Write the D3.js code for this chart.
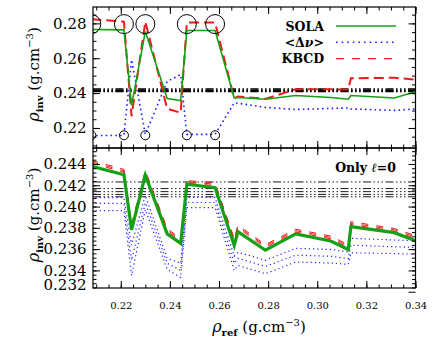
<!DOCTYPE html>
<html>
<head>
<meta charset="utf-8">
<script src="https://cdn.jsdelivr.net/npm/d3@7"></script>
<style>
body { margin: 0; background: #fff; }
text { font-family: "DejaVu Serif", serif; fill: #000; }
</style>
</head>
<body>
<script>
// reference density of each model (first one sits just left of the frame)
var rhoRef = [0.2080, 0.2213, 0.2244, 0.2300, 0.2389, 0.2444, 0.2469, 0.2584, 0.2662,
              0.2677, 0.2789, 0.2912, 0.3055, 0.3126, 0.3137, 0.3314, 0.3400];

// top panel: inverted density, all modes
var solaAll = [0.2765, 0.2763, 0.2329, 0.2753, 0.2369, 0.2357, 0.2759, 0.2759, 0.2373,
               0.2375, 0.2365, 0.2386, 0.2375, 0.2365, 0.2386, 0.2372, 0.2408];
var dnuAll  = [0.2157, 0.2157, 0.2591, 0.2163, 0.2467, 0.2506, 0.2163, 0.2163, 0.2344,
               0.2342, 0.2318, 0.2306, 0.2312, 0.2315, 0.2309, 0.2301, 0.2309];
var kbcdAll = [0.2824, 0.2810, 0.2267, 0.2810, 0.2310, 0.2287, 0.2805, 0.2805, 0.2369,
               0.2381, 0.2367, 0.2422, 0.2422, 0.2420, 0.2485, 0.2488, 0.2477];

// bottom panel: inverted density, only l=0 modes
var solaL0 = [0.24380, 0.24298, 0.23781, 0.24295, 0.23743, 0.23654, 0.24210, 0.24178, 0.23635,
              0.23765, 0.23590, 0.23743, 0.23676, 0.23597, 0.23812, 0.23755, 0.23679];
var kbcdL0 = [0.24420, 0.24336, 0.23820, 0.24327, 0.23781, 0.23686, 0.24231, 0.24210, 0.23686,
              0.23812, 0.23630, 0.23774, 0.23710, 0.23630, 0.23845, 0.23781, 0.23714];
var kbcdErr = 0.00013;
var dnuL0Hi = [0.24083, 0.24083, 0.23638, 0.24105, 0.23514, 0.23467, 0.24086, 0.24086, 0.23533,
               0.23571, 0.23495, 0.23607, 0.23597, 0.23574, 0.23702, 0.23686, 0.23679];
var dnuL0   = [0.24029, 0.24029, 0.23495, 0.24035, 0.23467, 0.23400, 0.24038, 0.24038, 0.23467,
               0.23514, 0.23438, 0.23543, 0.23533, 0.23511, 0.23638, 0.23622, 0.23616];
var dnuL0Lo = [0.23962, 0.23962, 0.23352, 0.23971, 0.23410, 0.23333, 0.23990, 0.23990, 0.23400,
               0.23448, 0.23369, 0.23479, 0.23470, 0.23457, 0.23565, 0.23559, 0.23552];

// reference mean densities (horizontal lines)
var refLines = [0.24231, 0.24169, 0.24140, 0.24114, 0.24092];

// models flagged with circles
var flagged = [0, 1, 3, 6, 7];
var flagHigh = 0.2796, flagLow = 0.2158;

// tick labels
var xTicks = [0.22, 0.24, 0.26, 0.28, 0.30, 0.32, 0.34];
var yTopTicks = [0.22, 0.24, 0.26, 0.28];
var yBotTicks = [0.232, 0.234, 0.236, 0.238, 0.240, 0.242, 0.244];

var W = 434, H = 339;
var left = 93, right = 415.5;
var topPanel = [7, 148], botPanel = [148, 288];

var svg = d3.select("body").append("svg")
            .attr("width", W)
            .attr("height", H);

var x = d3.scaleLinear().domain([0.2087, 0.34]).range([left, right]);
var yTop = d3.scaleLinear().domain([0.2085, 0.2894]).range([topPanel[1], topPanel[0]]);
var yBot = d3.scaleLinear().domain([0.23235, 0.2455]).range([botPanel[1], botPanel[0]]);

var defs = svg.append("defs");
[["clipTop", topPanel], ["clipBot", botPanel]].forEach(function(c) {
	defs.append("clipPath").attr("id", c[0])
	    .append("rect")
	    .attr("x", left).attr("y", c[1][0])
	    .attr("width", right - left).attr("height", c[1][1] - c[1][0]);
});

function lineOf(y) {
	return d3.line()
	         .x(function(d, i) { return x(rhoRef[i]); })
	         .y(function(d) { return y(d); });
}

function drawSeries(g, data, y, color, width, dash) {
	g.append("path")
	 .datum(data)
	 .attr("d", lineOf(y))
	 .attr("fill", "none")
	 .attr("stroke", color)
	 .attr("stroke-width", width)
	 .attr("stroke-dasharray", dash);
}

var green = "#14a014", red = "#f01818", blue = "#2020ff";
var refDash = "8,2.5,1.5,2.5,1.5,2.5,1.5,2.5";

// ---- top panel
var gTop = svg.append("g").attr("clip-path", "url(#clipTop)");

refLines.forEach(function(v) {
	gTop.append("line")
	    .attr("x1", left).attr("x2", right)
	    .attr("y1", yTop(v)).attr("y2", yTop(v))
	    .attr("stroke", "#000").attr("stroke-width", 1.4)
	    .attr("stroke-dasharray", refDash);
});

drawSeries(gTop, dnuAll, yTop, blue, 1.6, "1.6,3.2");
drawSeries(gTop, kbcdAll, yTop, red, 2, "10,5");
drawSeries(gTop, solaAll, yTop, green, 1.6, null);

gTop.selectAll("circle.hi")
    .data(flagged)
    .enter().append("circle")
    .attr("cx", function(i) { return x(rhoRef[i]); })
    .attr("cy", yTop(flagHigh))
    .attr("r", 9.5)
    .attr("fill", "none").attr("stroke", "#000").attr("stroke-width", 1);

gTop.selectAll("circle.lo")
    .data(flagged)
    .enter().append("circle")
    .attr("cx", function(i) { return x(rhoRef[i]); })
    .attr("cy", yTop(flagLow))
    .attr("r", 4.5)
    .attr("fill", "none").attr("stroke", "#000").attr("stroke-width", 1);

// legend
var legend = [
	{name: "SOLA", color: green, dash: null, w: 1.6},
	{name: "<\u0394\u03bd>", color: blue, dash: "1.6,4", w: 1.6},
	{name: "KBCD", color: red, dash: "8,8", w: 1.4}
];
legend.forEach(function(d, i) {
	var ly = 26 + i * 16.3;
	var t = svg.append("text")
	           .attr("x", 324).attr("y", ly + 4.5)
	           .attr("text-anchor", "end")
	           .attr("font-size", 12.5)
	           .attr("font-weight", "bold");
	if (i === 1) {
		t.append("tspan").text("<\u0394");
		t.append("tspan").attr("font-style", "italic").text("\u03bd");
		t.append("tspan").text(">");
	} else {
		t.text(d.name);
	}
	svg.append("line")
	   .attr("x1", 336).attr("x2", 396)
	   .attr("y1", ly).attr("y2", ly)
	   .attr("stroke", d.color).attr("stroke-width", d.w)
	   .attr("stroke-dasharray", d.dash);
});

// ---- bottom panel
var gBot = svg.append("g").attr("clip-path", "url(#clipBot)");

refLines.forEach(function(v) {
	gBot.append("line")
	    .attr("x1", left).attr("x2", right)
	    .attr("y1", yBot(v)).attr("y2", yBot(v))
	    .attr("stroke", "#000").attr("stroke-width", 0.9)
	    .attr("stroke-dasharray", refDash);
});

[dnuL0Hi, dnuL0, dnuL0Lo].forEach(function(s) {
	drawSeries(gBot, s, yBot, blue, 1.2, "1.2,3");
});
[-1, 0, 1].forEach(function(k) {
	var s = kbcdL0.map(function(v) { return v + k * kbcdErr; });
	drawSeries(gBot, s, yBot, red, 1, "7,8");
});
drawSeries(gBot, solaL0, yBot, green, 3.2, null);

svg.append("text")
   .attr("x", 396).attr("y", 172)
   .attr("text-anchor", "end")
   .attr("font-size", 12.5)
   .attr("font-weight", "bold")
   .call(function(t) {
	   t.append("tspan").text("Only ");
	   t.append("tspan").attr("font-style", "italic").text("\u2113");
	   t.append("tspan").text("=0");
   });

// ---- frames and ticks (ticks point inward on all sides)
function frame(y, range, major, minor, fmt, xLabels) {
	var g = svg.append("g");
	g.append("rect")
	 .attr("x", left).attr("y", range[0])
	 .attr("width", right - left).attr("height", range[1] - range[0])
	 .attr("fill", "none").attr("stroke", "#000").attr("stroke-width", 1.2);

	var xMinor = d3.range(0.21, 0.3401, 0.005);
	[0, 1].forEach(function(k) {
		var pos = "translate(0," + (k === 0 ? range[1] : range[0]) + ")";
		var mk = k === 0 ? d3.axisBottom : d3.axisTop;
		g.append("g").attr("transform", pos)
		 .call(mk(x).tickValues(xMinor).tickSize(-3.5).tickFormat(""));
		g.append("g").attr("transform", pos)
		 .attr("font-size", 12)
		 .call(mk(x).tickValues(xTicks).tickSize(-7).tickPadding(13.5)
		            .tickFormat(k === 0 && xLabels ? d3.format(".2f") : ""))
		 .attr("font-family", null);
	});

	var yAxis;
	[0, 1].forEach(function(k) {
		var pos = "translate(" + (k === 0 ? left : right) + ",0)";
		var mk = k === 0 ? d3.axisLeft : d3.axisRight;
		g.append("g").attr("transform", pos)
		 .call(mk(y).tickValues(minor).tickSize(-3.5).tickFormat(""));
		var a = g.append("g").attr("transform", pos)
		         .call(mk(y).tickValues(major).tickSize(-7).tickPadding(6.5)
		                    .tickFormat(k === 0 ? d3.format(fmt) : ""))
		         .attr("font-family", null).attr("font-size", 15);
		if (k === 0) yAxis = a;
	});

	g.selectAll(".domain").remove();
	g.selectAll(".tick line").attr("stroke", "#000").attr("stroke-width", 1);
	return yAxis;
}

frame(yTop, topPanel, yTopTicks, d3.range(0.21, 0.2891, 0.005), ".2f", false);
var yBotAxis = frame(yBot, botPanel, yBotTicks, d3.range(0.2324, 0.2455, 0.0004), ".3f", true);

// the lowest label lies just under the frame: keep it on the edge
yBotAxis.selectAll(".tick")
        .filter(function(d) { return d < yBot.domain()[0]; })
        .attr("transform", "translate(0," + (botPanel[1] - 2.5) + ")")
        .select("line").remove();

// ---- axis titles
function title(sel, sub) {
	sel.append("tspan").attr("font-style", "italic").attr("font-size", 16).text("\u03c1");
	sel.append("tspan").attr("font-weight", "bold").attr("font-size", 10).attr("dy", 4).text(sub);
	sel.append("tspan").attr("dy", -4).text(" (g.cm");
	sel.append("tspan").attr("font-size", 10).attr("dy", -6).text("\u22123");
	sel.append("tspan").attr("dy", 6).text(")");
}

[topPanel, botPanel].forEach(function(p) {
	svg.append("text")
	   .attr("transform", "translate(39," + ((p[0] + p[1]) / 2 - 3) + ") rotate(-90)")
	   .attr("text-anchor", "middle")
	   .attr("font-size", 15)
	   .call(title, "inv");
});

svg.append("text")
   .attr("x", 259).attr("y", 332)
   .attr("text-anchor", "middle")
   .attr("font-size", 15)
   .call(title, "ref");
</script>
</body>
</html>
